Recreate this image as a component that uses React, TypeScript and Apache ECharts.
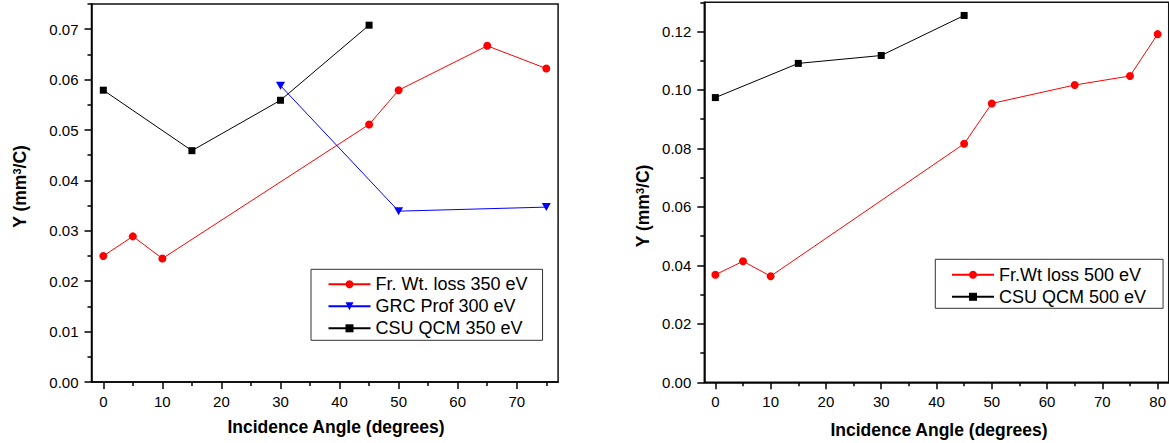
import React, { useEffect, useRef } from "react";
import * as echarts from "echarts";

const FONT = '"Liberation Sans", Arial, Helvetica, sans-serif';

// ---- Left panel (350 eV) ----
const leftXTicks = [0, 10, 20, 30, 40, 50, 60, 70];
const leftXMinor = [5, 15, 25, 35, 45, 55, 65, 75];
const leftYTicks = [0, 0.01, 0.02, 0.03, 0.04, 0.05, 0.06, 0.07];
const leftYMinor = [0.005, 0.015, 0.025, 0.035, 0.045, 0.055, 0.065, 0.075];

const frAngles350 = [0, 5, 10, 45, 50, 65, 75];
const frWtLoss350 = [0.025, 0.0289, 0.0245, 0.0511, 0.0579, 0.0667, 0.0622];
const grcAngles300 = [30, 50, 75];
const grcProf300 = [0.0588, 0.0339, 0.0347];
const csuAngles350 = [0, 15, 30, 45];
const csuQcm350 = [0.0579, 0.0459, 0.0559, 0.0708];

// ---- Right panel (500 eV) ----
const rightXTicks = [0, 10, 20, 30, 40, 50, 60, 70, 80];
const rightXMinor = [5, 15, 25, 35, 45, 55, 65, 75];
const rightYTicks = [0, 0.02, 0.04, 0.06, 0.08, 0.1, 0.12];
const rightYMinor = [0.01, 0.03, 0.05, 0.07, 0.09, 0.11, 0.13];

const frAngles500 = [0, 5, 10, 45, 50, 65, 75, 80];
const frWtLoss500 = [0.0368, 0.0414, 0.0363, 0.0816, 0.0954, 0.1017, 0.1048, 0.1191];
const csuAngles500 = [0, 15, 30, 45];
const csuQcm500 = [0.0974, 0.1091, 0.1118, 0.1255];

const NAMES_L = ["Fr. Wt. loss 350 eV", "GRC Prof 300 eV", "CSU QCM 350 eV"];
const NAMES_R = ["Fr.Wt loss 500 eV", "CSU QCM 500 eV"];

const TRI_DOWN = "path://M0,0L10,0L5,9Z";

const zip = (xs: number[], ys: number[]) => xs.map((x, i) => [x, ys[i]]);

const majorAxis = (dim: "x" | "y", grid: number, min: number, max: number, ticks: number[]) => ({
  type: "value",
  gridIndex: grid,
  min,
  max,
  position: dim === "x" ? "bottom" : "left",
  axisLine: { show: true, onZero: false, lineStyle: { color: "#000", width: 1.5 } },
  axisTick: { show: true, inside: false, length: 7, customValues: ticks, lineStyle: { color: "#000", width: 1.5 } },
  axisLabel: {
    show: true,
    customValues: ticks,
    margin: dim === "x" ? 12 : 13,
    fontSize: 15,
    fontFamily: FONT,
    color: "#000",
    formatter: dim === "x" ? (v: number) => String(Math.round(v)) : (v: number) => v.toFixed(2),
  },
  splitLine: { show: false },
  minorTick: { show: false },
});

const minorAxis = (dim: "x" | "y", grid: number, min: number, max: number, ticks: number[]) => ({
  type: "value",
  gridIndex: grid,
  min,
  max,
  position: dim === "x" ? "bottom" : "left",
  axisLine: { show: false, onZero: false },
  axisTick: { show: true, inside: false, length: 4, customValues: ticks, lineStyle: { color: "#000", width: 1.5 } },
  axisLabel: { show: false },
  splitLine: { show: false },
});

const lineSeries = (name: string, xAxisIndex: number, yAxisIndex: number, data: number[][], color: string, symbol: string, size: any) => ({
  type: "line",
  name,
  xAxisIndex,
  yAxisIndex,
  data,
  symbol,
  symbolSize: size,
  showSymbol: true,
  itemStyle: { color },
  lineStyle: { color, width: 1 },
  emphasis: { disabled: true },
  clip: false,
});

const legendBase = {
  orient: "vertical",
  selectedMode: false,
  itemWidth: 42,
  itemHeight: 10,
  itemGap: 0,
  borderColor: "#333",
  borderWidth: 1,
  textStyle: { fontSize: 18, fontFamily: FONT, color: "#000", lineHeight: 22 },
};

export default function App() {
  const ref = useRef<HTMLDivElement>(null);
  useEffect(() => {
    if (!ref.current) return;
    const chart = echarts.init(ref.current, undefined, { renderer: "svg" });
    const titleStyle = {
      fontSize: 17.5,
      fontWeight: "bold",
      fontFamily: FONT,
      fill: "#000",
    };
    const yTitle = (x: number, y: number) => ({
      type: "text",
      x,
      y,
      rotation: Math.PI / 2,
      silent: true,
      style: {
        text: "{n|Y (mm}{s|3}{n|/C)}",
        align: "center",
        verticalAlign: "middle",
        fill: "#000",
        rich: {
          n: { ...titleStyle },
          s: { fontSize: 11, fontWeight: "bold", fontFamily: FONT, fill: "#000", verticalAlign: "top" },
        },
      },
    });
    const xTitle = (x: number, y: number) => ({
      type: "text",
      x,
      y,
      silent: true,
      style: {
        text: "Incidence Angle (degrees)",
        align: "center",
        verticalAlign: "middle",
        ...titleStyle,
      },
    });
    chart.setOption({
      animation: false,
      backgroundColor: "#fff",
      grid: [
        { left: 91.5, top: 4, width: 466.6, height: 378, show: true, borderColor: "#111", borderWidth: 1.5, containLabel: false },
        { left: 704.3, top: 2.3, width: 472.2, height: 380, show: true, borderColor: "#111", borderWidth: 1.5, containLabel: false },
      ],
      xAxis: [
        majorAxis("x", 0, -2, 77, leftXTicks),
        minorAxis("x", 0, -2, 77, leftXMinor),
        majorAxis("x", 1, -2, 82, rightXTicks),
        minorAxis("x", 1, -2, 82, rightXMinor),
      ],
      yAxis: [
        majorAxis("y", 0, 0, 0.075, leftYTicks),
        minorAxis("y", 0, 0, 0.075, leftYMinor),
        majorAxis("y", 1, 0, 0.13, rightYTicks),
        minorAxis("y", 1, 0, 0.13, rightYMinor),
      ],
      legend: [
        { ...legendBase, data: NAMES_L, left: 311, top: 269.3, padding: [4, 15, 1, 16.5] },
        { ...legendBase, data: NAMES_R, left: 935.3, top: 259.3, padding: [4.5, 17, 0.5, 15.7] },
      ],
      series: [
        lineSeries(NAMES_L[0], 0, 0, zip(frAngles350, frWtLoss350), "#ff0000", "circle", 8),
        lineSeries(NAMES_L[1], 0, 0, zip(grcAngles300, grcProf300), "#0000ff", TRI_DOWN, [9, 8]),
        lineSeries(NAMES_L[2], 0, 0, zip(csuAngles350, csuQcm350), "#000000", "rect", 7),
        lineSeries(NAMES_R[0], 2, 2, zip(frAngles500, frWtLoss500), "#ff0000", "circle", 8),
        lineSeries(NAMES_R[1], 2, 2, zip(csuAngles500, csuQcm500), "#000000", "rect", 7),
      ],
      graphic: [yTitle(20, 186.5), yTitle(643, 206), xTitle(336, 427), xTitle(939, 430)],
    });
    return () => chart.dispose();
  }, []);
  return (
    <div style={{ position: "fixed", left: 0, top: 0, width: 1169, height: 443, overflow: "hidden", background: "#fff" }}>
      <div ref={ref} style={{ width: 1169, height: 443 }} />
    </div>
  );
}
